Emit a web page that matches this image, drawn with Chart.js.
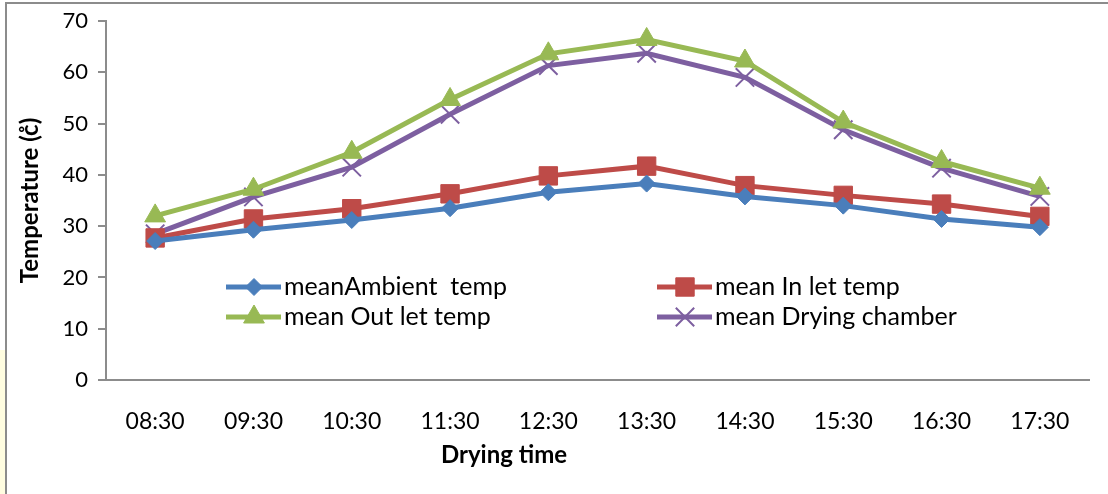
<!DOCTYPE html>
<html>
<head>
<meta charset="utf-8">
<script src="https://cdn.jsdelivr.net/npm/chart.js@4/dist/chart.umd.min.js"></script>
<style>
  html, body { margin: 0; padding: 0; background: #fff; }
  #wrap { position: relative; width: 1108px; height: 494px; overflow: hidden; }
  #strip { position: absolute; left: 0; top: 350px; width: 5px; height: 144px; background: #fffde0; }
  #frame { position: absolute; left: 5px; top: 2px; width: 1110px; height: 520px; border: 2px solid #8c8c8c; box-sizing: border-box; }
  canvas { position: absolute; left: 0; top: 0; }
</style>
</head>
<body>
<div id="wrap">
  <div id="strip"></div>
  <div id="frame"></div>
  <canvas id="chart" width="1108" height="494"></canvas>
</div>
<script>
// categories and series
const times = ["08:30", "09:30", "10:30", "11:30", "12:30", "13:30", "14:30", "15:30", "16:30", "17:30"];
const ambient = [27.1, 29.3, 31.2, 33.5, 36.6, 38.3, 35.8, 34.0, 31.4, 29.8];
const inlet = [27.7, 31.4, 33.4, 36.3, 39.8, 41.7, 37.9, 36.0, 34.3, 31.9];
const outlet = [32.0, 37.2, 44.4, 54.7, 63.6, 66.4, 62.2, 50.3, 42.6, 37.4];
const chamber = [28.5, 35.7, 41.5, 51.8, 61.3, 63.7, 59.0, 48.8, 41.3, 35.8];
const yTicks = [0, 10, 20, 30, 40, 50, 60, 70];

const FONT = "Lato, 'Open Sans', sans-serif";

function series(label, data, color, style, radius, bw) {
    return {
        label: label,
        data: data,
        borderColor: color,
        backgroundColor: color,
        borderWidth: 5,
        pointStyle: style,
        pointRadius: radius,
        pointHoverRadius: radius,
        pointBorderColor: color,
        pointBackgroundColor: color,
        pointBorderWidth: bw,
        tension: 0,
    };
}

// legend drawn inside the plot, two columns like the original
const legendBox = {
    id: "legendBox",
    afterDatasetsDraw(chart) {
        const ctx = chart.ctx;
        const cols = [226, 657];
        const rows = [287, 317];
        ctx.save();
        chart.data.datasets.forEach((ds, i) => {
            const x = cols[i % 2];
            const y = rows[Math.floor(i / 2)];
            ctx.strokeStyle = ds.borderColor;
            ctx.fillStyle = ds.borderColor;
            ctx.lineWidth = 5;
            ctx.beginPath();
            ctx.moveTo(x, y);
            ctx.lineTo(x + 55, y);
            ctx.stroke();
            ctx.lineWidth = ds.pointBorderWidth;
            Chart.helpers.drawPoint(ctx, {
                pointStyle: ds.pointStyle,
                radius: ds.pointRadius,
                rotation: 0,
                borderWidth: ds.pointBorderWidth,
            }, x + 28, y);
            ctx.fillStyle = "#000";
            ctx.font = "25px " + FONT;
            ctx.textBaseline = "middle";
            ctx.textAlign = "left";
            ctx.fillText(ds.label, x + 58, y);
        });
        // x axis title
        ctx.font = "bold 24px " + FONT;
        ctx.textAlign = "center";
        ctx.textBaseline = "middle";
        ctx.fillText("Drying time", 504, 455);
        ctx.restore();
    }
};

new Chart(document.getElementById("chart"), {
    type: "line",
    data: {
        labels: times,
        datasets: [
            series("meanAmbient  temp", ambient, "#4a7ebb", "rectRot", 8.5, 1),
            series("mean In let temp", inlet, "#be4b48", "rect", 13, 1),
            series("mean Out let temp", outlet, "#98b954", "triangle", 12, 1),
            series("mean Drying chamber", chamber, "#7d5fa0", "crossRot", 13, 2),
        ],
    },
    options: {
        responsive: false,
        animation: false,
        layout: { padding: { left: 6, right: 19, top: 2, bottom: 0 } },
        plugins: {
            legend: { display: false },
            tooltip: { enabled: false },
        },
        scales: {
            x: {
                offset: true,
                grid: { display: false, drawTicks: false },
                border: { color: "#8c8c8c", width: 2 },
                ticks: { color: "#000", font: { family: FONT, size: 23 }, padding: 28 },
                afterFit(scale) { scale.height = 114; },
            },
            y: {
                min: 0,
                max: 70,
                afterBuildTicks(scale) { scale.ticks = yTicks.map(v => ({ value: v })); },
                grid: { drawOnChartArea: false, tickLength: 8, color: "#8c8c8c", lineWidth: 2 },
                border: { color: "#8c8c8c", width: 2 },
                ticks: { color: "#000", font: { family: FONT, size: 22, lineHeight: 1 }, padding: 10 },
                title: {
                    display: true,
                    text: "Temperature (c\u030A)",
                    color: "#000",
                    font: { family: FONT, size: 24, weight: "bold" },
                    padding: { top: 10, bottom: 4 },
                },
                afterFit(scale) { scale.width = 100; },
            },
        },
    },
    plugins: [legendBox],
});
</script>
</body>
</html>
